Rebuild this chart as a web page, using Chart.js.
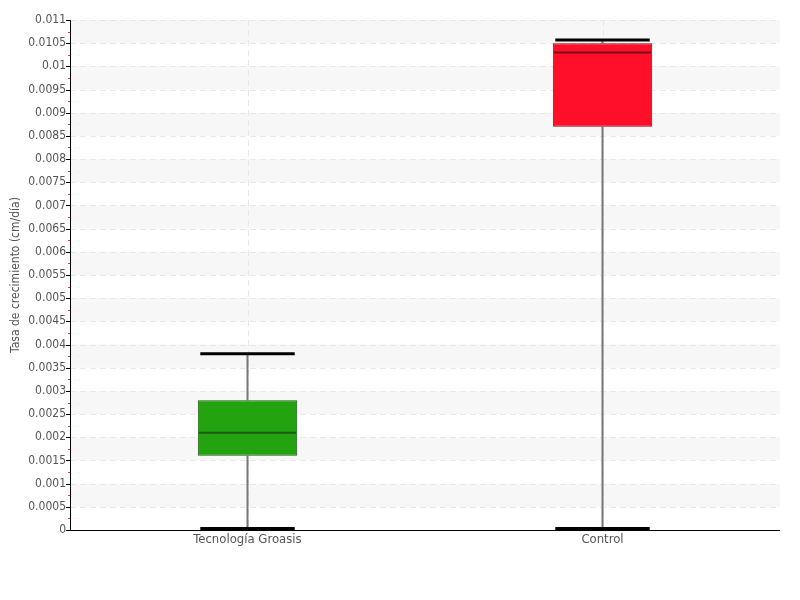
<!DOCTYPE html>
<html><head><meta charset="utf-8">
<script src="https://cdn.jsdelivr.net/npm/chart.js@4/dist/chart.umd.min.js"></script>
<style>html,body{margin:0;padding:0;background:#fff}#wrap{width:800px;height:600px}</style>
</head><body><div id="wrap"><canvas id="c" width="800" height="600"></canvas></div>
<script>
const categories = ["Tecnología Groasis", "Control"];
const minValues = [0, 0];
const q1Values = [0.0016, 0.0087];
const medianValues = [0.0021, 0.0103];
const q3Values = [0.0028, 0.0105];
const maxValues = [0.0038, 0.01057];
const fillColors = ["#22a30f", "#ff0f2a"];
const edgeColors = ["#1c5a14", "#7a0f1a"];
const yTitle = "Tasa de crecimiento (cm/día)";
const yMin = 0, yMax = 0.011, yStep = 0.0005;

const FONT = "'DejaVu Sans Condensed', 'Liberation Sans Narrow', 'Roboto', sans-serif";

const boxPlugin = {
  id: 'boxExtras',
  beforeDatasetsDraw(chart) {
    const {ctx, chartArea: a, scales: {x, y}} = chart;
    ctx.save();
    ctx.fillStyle = '#f7f7f7';
    const n = Math.round((yMax - yMin) / yStep);
    for (let i = 0; i < n; i++) {
      const topVal = yMax - i * yStep;
      if (i % 2 === 0) {
        const yt = y.getPixelForValue(topVal), yb = y.getPixelForValue(topVal - yStep);
        ctx.fillRect(a.left, yt, a.right - a.left, yb - yt);
      }
    }
    ctx.strokeStyle = '#e8e8e8'; ctx.lineWidth = 1; ctx.setLineDash([6, 4]);
    for (let v = yMin; v <= yMax + 1e-9; v += yStep) {
      const py = Math.round(y.getPixelForValue(v)) + 0.5;
      ctx.beginPath(); ctx.moveTo(a.left, py); ctx.lineTo(a.right, py); ctx.stroke();
    }
    for (let i = 0; i < categories.length; i++) {
      const px = Math.round(x.getPixelForValue(i)) + 0.5;
      ctx.beginPath(); ctx.moveTo(px, a.top); ctx.lineTo(px, a.bottom); ctx.stroke();
    }
    ctx.setLineDash([]);
    ctx.strokeStyle = '#777'; ctx.lineWidth = 2;
    for (let i = 0; i < categories.length; i++) {
      const px = x.getPixelForValue(i);
      ctx.beginPath(); ctx.moveTo(px, y.getPixelForValue(maxValues[i])); ctx.lineTo(px, y.getPixelForValue(q3Values[i])); ctx.stroke();
      ctx.beginPath(); ctx.moveTo(px, y.getPixelForValue(q1Values[i])); ctx.lineTo(px, y.getPixelForValue(minValues[i])); ctx.stroke();
    }
    ctx.restore();
  },
  afterDatasetsDraw(chart) {
    const {ctx, chartArea: a, scales: {x, y}} = chart;
    const meta = chart.getDatasetMeta(0);
    ctx.save();
    for (let i = 0; i < categories.length; i++) {
      const px = x.getPixelForValue(i);
      const bw = meta.data[i].width;
      ctx.strokeStyle = edgeColors[i]; ctx.lineWidth = 2;
      const my = y.getPixelForValue(medianValues[i]);
      ctx.beginPath(); ctx.moveTo(px - bw / 2 + 1, my); ctx.lineTo(px + bw / 2 - 1, my); ctx.stroke();
      ctx.strokeStyle = '#000'; ctx.lineWidth = 3;
      const cw = bw * 0.95;
      for (const v of [maxValues[i], minValues[i]]) {
        let cy = y.getPixelForValue(v);
        if (v === yMin) cy -= 1.5;
        ctx.beginPath(); ctx.moveTo(px - cw / 2, cy); ctx.lineTo(px + cw / 2, cy); ctx.stroke();
      }
    }
    ctx.strokeStyle = '#000'; ctx.lineWidth = 1;
    ctx.beginPath(); ctx.moveTo(a.left + 0.5, a.top); ctx.lineTo(a.left + 0.5, a.bottom); ctx.stroke();
    ctx.beginPath(); ctx.moveTo(a.left, a.bottom + 0.5); ctx.lineTo(a.right, a.bottom + 0.5); ctx.stroke();
    for (let v = yMin; v <= yMax + 1e-9; v += yStep) {
      const py = Math.round(y.getPixelForValue(v)) + 0.5;
      ctx.strokeStyle = '#000';
      ctx.beginPath(); ctx.moveTo(a.left - 4, py); ctx.lineTo(a.left, py); ctx.stroke();
    }
    ctx.strokeStyle = '#ff3030';
    for (let v = yMin + yStep / 2; v < yMax; v += yStep) {
      const py = Math.round(y.getPixelForValue(v)) + 0.5;
      ctx.beginPath(); ctx.moveTo(a.left - 2, py); ctx.lineTo(a.left, py); ctx.stroke();
    }
    ctx.restore();
  }
};

new Chart(document.getElementById('c'), {
  type: 'bar',
  data: {
    labels: categories,
    datasets: [{
      data: q1Values.map((q, i) => [q, q3Values[i]]),
      backgroundColor: fillColors,
      borderColor: edgeColors,
      borderWidth: 1,
      borderSkipped: false,
      categoryPercentage: 1,
      barPercentage: 0.28
    }]
  },
  options: {
    responsive: false,
    animation: false,
    devicePixelRatio: 1,
    layout: { padding: { top: 20, right: 20, bottom: 0, left: 0 } },
    plugins: { legend: { display: false }, tooltip: { enabled: false } },
    scales: {
      x: {
        grid: { display: false, drawTicks: false },
        border: { display: false },
        ticks: { color: '#555', font: { family: FONT, size: 13 }, padding: 2 },
        afterFit(s) { s.height = 70; }
      },
      y: {
        min: yMin, max: yMax,
        grid: { display: false, drawTicks: false },
        border: { display: false },
        ticks: {
          stepSize: yStep, color: '#555', padding: 4,
          font: { family: FONT, size: 12 },
          callback: v => String(Number(v.toFixed(5)))
        },
        title: { display: true, text: yTitle, color: '#555', font: { family: FONT, size: 12 }, padding: { top: 9, bottom: 0 } },
        afterFit(s) { s.width = 70; }
      }
    }
  },
  plugins: [boxPlugin]
});
</script></body></html>
